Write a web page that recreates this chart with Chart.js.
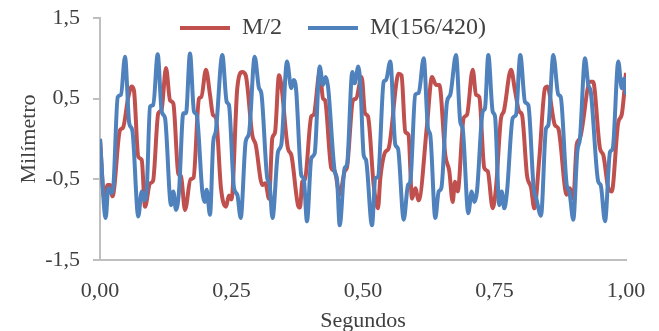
<!DOCTYPE html>
<html lang="es">
<head>
    <meta charset="UTF-8">
    <title>Milímetro vs Segundos</title>
    <script src="https://cdn.jsdelivr.net/npm/chart.js"></script>
    <style>
        body, html { margin: 0; padding: 0; width: 100%; height: 100%; overflow: hidden; background: #fff; }
        #wrap { width: 659px; height: 331px; }
    </style>
</head>
<body>
<div id="wrap"><canvas id="chart"></canvas></div>
<script>
    const xTicks = [0, 0.25, 0.5, 0.75, 1];
    const yTicks = [-1.5, -0.5, 0.5, 1.5];

    // M/2 (red) - key points
    const redT = [0.0000, 0.0082, 0.0146, 0.0190, 0.0238, 0.0380, 0.0437, 0.0538, 0.0603, 0.0646,
        0.0728, 0.0793, 0.0856, 0.0951, 0.1008, 0.1108, 0.1169, 0.1255, 0.1331, 0.1394,
        0.1489, 0.1540, 0.1616, 0.1721, 0.1778, 0.1882, 0.1926, 0.2015, 0.2091, 0.2148,
        0.2205, 0.2300, 0.2395, 0.2452, 0.2500, 0.2610, 0.2705, 0.2770, 0.2895, 0.2960,
        0.3086, 0.3146, 0.3213, 0.3276, 0.3327, 0.3403, 0.3447, 0.3574, 0.3637, 0.3764,
        0.3802, 0.3846, 0.3897, 0.4017, 0.4063, 0.4177, 0.4240, 0.4278, 0.4397, 0.4462,
        0.4557, 0.4652, 0.4696, 0.4810, 0.4867, 0.4975, 0.5038, 0.5095, 0.5203, 0.5285,
        0.5329, 0.5424, 0.5485, 0.5679, 0.5732, 0.5804, 0.5865, 0.5932, 0.5994, 0.6059,
        0.6217, 0.6312, 0.6388, 0.6451, 0.6565, 0.6641, 0.6705, 0.6749, 0.6800, 0.6914,
        0.6977, 0.7086, 0.7148, 0.7211, 0.7306, 0.7371, 0.7466, 0.7529, 0.7624, 0.7675,
        0.7814, 0.7890, 0.7971, 0.8023, 0.8118, 0.8194, 0.8257, 0.8352, 0.8460, 0.8504,
        0.8650, 0.8713, 0.8873, 0.8935, 0.8998, 0.9063, 0.9125, 0.9316, 0.9373, 0.9506,
        0.9569, 0.9664, 0.9728, 0.9854, 0.9918, 1.0000];
    const redV = [0.00, -0.74, -0.57, -0.57, -0.71, 0.11, 0.14, 0.52, 0.65, 0.60,
        -0.22, -0.26, -0.84, -0.55, -0.52, 0.32, 0.36, 0.88, 0.48, 0.44,
        -0.43, -0.46, -0.88, -0.50, -0.48, 0.50, 0.52, 0.86, 0.55, 0.30,
        0.26, -0.61, -0.84, -0.70, -0.75, 0.63, 0.83, 0.79, 0.05, -0.07,
        -0.57, -0.55, -0.74, 0.01, 0.08, 0.79, 0.67, -0.12, -0.20, -0.82,
        -0.85, -0.53, -0.50, 0.28, 0.30, 0.83, 0.50, 0.48, -0.36, -0.40,
        -0.69, -0.40, -0.35, 0.48, 0.50, 0.77, 0.32, 0.28, -0.57, -0.86,
        -0.49, -0.16, -0.12, 0.81, 0.79, 0.09, 0.05, -0.74, -0.61, -0.76,
        0.17, 0.77, 0.67, 0.67, -0.20, -0.40, -0.78, -0.53, -0.65, 0.26,
        0.30, 0.86, 0.55, 0.52, -0.36, -0.40, -0.86, -0.60, 0.26, 0.34,
        0.86, 0.60, 0.34, 0.30, -0.45, -0.60, -0.86, -0.24, 0.63, 0.65,
        0.17, 0.13, -0.69, -0.61, -0.74, -0.07, 0.01, 0.71, 0.71, -0.12,
        -0.20, -0.61, -0.65, 0.21, 0.30, 0.82];

    // M(156/420) (blue)
    const blueT = [0.0000, 0.0108, 0.0158, 0.0209, 0.0253, 0.0337, 0.0399, 0.0475, 0.0557, 0.0614,
        0.0728, 0.0793, 0.0837, 0.0888, 0.0951, 0.1013, 0.1097, 0.1173, 0.1236, 0.1350,
        0.1394, 0.1445, 0.1502, 0.1584, 0.1635, 0.1711, 0.1787, 0.1838, 0.1945, 0.1990,
        0.2028, 0.2091, 0.2154, 0.2200, 0.2325, 0.2409, 0.2452, 0.2548, 0.2610, 0.2675,
        0.2770, 0.2833, 0.2941, 0.3023, 0.3067, 0.3181, 0.3222, 0.3279, 0.3384, 0.3447,
        0.3555, 0.3637, 0.3683, 0.3726, 0.3827, 0.3873, 0.3935, 0.4017, 0.4081, 0.4177,
        0.4240, 0.4291, 0.4335, 0.4462, 0.4506, 0.4557, 0.4652, 0.4696, 0.4797, 0.4843,
        0.4911, 0.4952, 0.5013, 0.5057, 0.5171, 0.5234, 0.5285, 0.5394, 0.5437, 0.5519,
        0.5614, 0.5665, 0.5774, 0.5856, 0.5899, 0.5994, 0.6059, 0.6154, 0.6236, 0.6279,
        0.6375, 0.6439, 0.6489, 0.6597, 0.6660, 0.6768, 0.6850, 0.6895, 0.7002, 0.7066,
        0.7116, 0.7167, 0.7276, 0.7319, 0.7382, 0.7466, 0.7510, 0.7591, 0.7637, 0.7686,
        0.7738, 0.7846, 0.7909, 0.7990, 0.8080, 0.8143, 0.8245, 0.8295, 0.8384, 0.8479,
        0.8523, 0.8618, 0.8713, 0.8759, 0.8873, 0.8922, 0.8998, 0.9074, 0.9125, 0.9221,
        0.9283, 0.9329, 0.9473, 0.9519, 0.9601, 0.9696, 0.9747, 0.9854, 0.9918, 0.9962,
        1.0000];
    const blueV = [0.00, -0.98, -0.61, -0.67, -0.59, 0.52, 0.55, 1.02, 0.19, 0.11,
        -0.96, -0.65, -0.76, -0.63, 0.40, 0.42, 1.05, 0.34, 0.26, -0.82,
        -0.65, -0.88, -0.65, 0.32, 0.32, 1.06, 0.34, 0.30, -0.65, -0.78,
        -0.63, -0.94, -0.03, 0.09, 1.04, 0.46, 0.42, -0.61, -0.69, -0.98,
        -0.03, 0.07, 1.02, 0.63, 0.57, -0.49, -0.55, -0.98, -0.16, -0.07,
        0.96, 0.63, 0.73, 0.63, -0.45, -0.49, -1.02, -0.24, -0.18, 0.90,
        0.67, 0.77, 0.65, -0.40, -0.50, -1.07, -0.36, -0.32, 0.83, 0.69,
        0.90, 0.65, -0.20, -0.26, -1.07, -0.49, -0.47, 0.71, 0.73, 0.96,
        -0.07, -0.12, -1.00, -0.57, -0.53, 0.55, 0.57, 1.00, 0.13, 0.05,
        -0.98, -0.65, -0.61, 0.46, 0.55, 1.04, 0.21, 0.13, -0.92, -0.65,
        -0.78, -0.65, 0.34, 0.38, 1.04, 0.34, 0.28, -0.82, -0.65, -0.86,
        -0.65, 0.26, 0.30, 1.04, 0.46, 0.42, -0.61, -0.74, -0.95, 0.13,
        0.17, 1.04, 0.55, 0.52, -0.57, -0.65, -1.00, -0.16, 0.01, 1.00,
        0.67, 0.59, -0.53, -0.57, -1.02, -0.16, -0.12, 0.96, 0.63, 0.75,
        0.55];

    const toPts = (ts, vs) => ts.map((t, i) => ({ x: t, y: vs[i] }));
    const comma = (v, d) => v.toFixed(d).replace('.', ',');

    const FONT = 'Liberation Serif';
    const TXT = '#404040';
    const AXIS = '#bfbfbf';

    // legend sits inside the plot top, so it takes no layout height
    const legendPlace = {
        id: 'legendPlace',
        beforeLayout(chart) {
            const lg = chart.legend;
            if (lg && !lg._patched) {
                const fit = lg.fit.bind(lg);
                lg.fit = function () { fit(); this.height = 0; };
                lg._patched = true;
            }
        },
        afterLayout(chart) {
            const lg = chart.legend;
            lg.top = -10;
            lg.bottom = 60;
            lg.height = 70;
            lg.left += 20;
            lg.right += 20;
        }
    };

    new Chart(document.getElementById('chart'), {
        type: 'line',
        data: {
            datasets: [
                {
                    label: 'M/2',
                    data: toPts(redT, redV),
                    borderColor: '#C0504D',
                    backgroundColor: '#C0504D',
                    borderWidth: 4,
                    pointRadius: 0,
                    cubicInterpolationMode: 'monotone',
                    order: 1
                },
                {
                    label: 'M(156/420)',
                    data: toPts(blueT, blueV),
                    borderColor: '#4F81BD',
                    backgroundColor: '#4F81BD',
                    borderWidth: 4,
                    pointRadius: 0,
                    cubicInterpolationMode: 'monotone',
                    order: 0
                }
            ]
        },
        options: {
            responsive: true,
            maintainAspectRatio: false,
            animation: false,
            layout: { padding: { top: 18, right: 33, bottom: -3, left: 0 } },
            scales: {
                x: {
                    type: 'linear',
                    min: 0,
                    max: 1,
                    afterBuildTicks: s => { s.ticks = xTicks.map(v => ({ value: v })); },
                    afterFit: s => { s.height = 74; },
                    ticks: {
                        padding: 10,
                        color: TXT,
                        font: { family: FONT, size: 22 },
                        maxRotation: 0,
                        callback: v => comma(v, 2)
                    },
                    grid: { display: false },
                    border: { display: true, color: AXIS, width: 2 },
                    title: {
                        display: true,
                        text: 'Segundos',
                        color: TXT,
                        font: { family: FONT, size: 22 },
                        padding: { top: 0, bottom: 0 }
                    }
                },
                y: {
                    min: -1.5,
                    max: 1.5,
                    afterBuildTicks: s => { s.ticks = yTicks.map(v => ({ value: v })); },
                    afterFit: s => { s.width = 100; s.paddingTop = 10; s.paddingBottom = 10; },
                    ticks: {
                        padding: 13,
                        color: TXT,
                        font: { family: FONT, size: 22 },
                        callback: v => comma(v, 1)
                    },
                    grid: {
                        drawOnChartArea: false,
                        drawTicks: true,
                        tickLength: 7,
                        color: AXIS,
                        lineWidth: 2
                    },
                    border: { display: true, color: AXIS, width: 2 },
                    title: {
                        display: true,
                        text: 'Milímetro',
                        color: TXT,
                        font: { family: FONT, size: 22 },
                        padding: { top: 16, bottom: 0 }
                    }
                }
            },
            plugins: {
                legend: {
                    position: 'top',
                    labels: {
                        usePointStyle: true,
                        pointStyle: 'line',
                        pointStyleWidth: 50,
                        padding: 26,
                        color: TXT,
                        font: { family: FONT, size: 24 },
                        sort: (a, b) => a.datasetIndex - b.datasetIndex
                    }
                },
                tooltip: { enabled: false }
            }
        },
        plugins: [legendPlace]
    });
</script>
</body>
</html>
